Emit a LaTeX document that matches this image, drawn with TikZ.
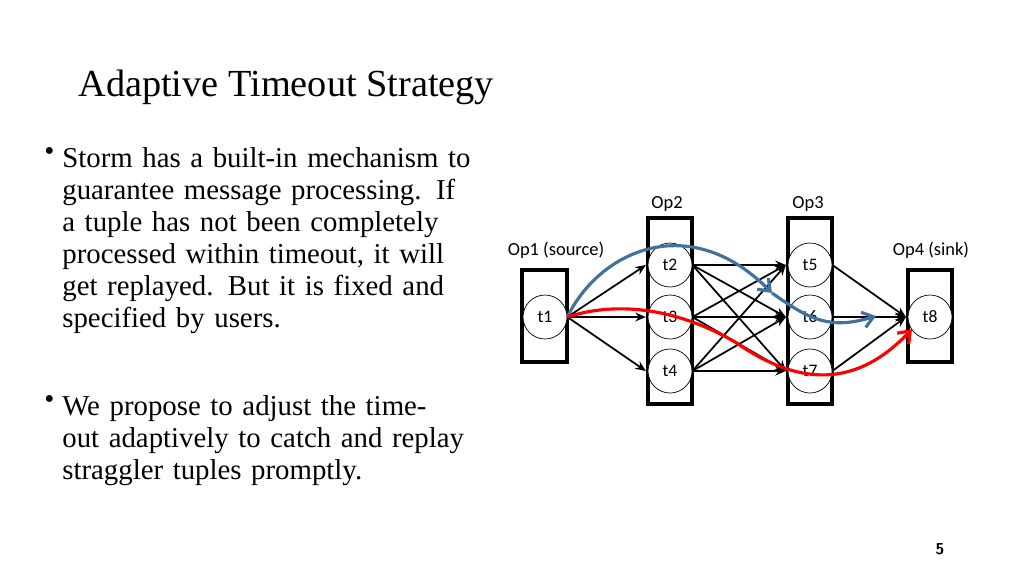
\documentclass[tikz,border=0pt]{standalone}
\usepackage{fontspec}
\setmainfont{Liberation Serif}
\newfontfamily\calib{Carlito}
\usetikzlibrary{arrows.meta,positioning}
\tikzset{
  opbox/.style={draw,line width=1.8pt},
  task/.style={circle,draw,fill=white,minimum size=0.88cm,inner sep=0pt,font=\calib\fontsize{10}{11}\selectfont},
  oplabel/.style={font=\calib\fontsize{10.5}{12}\selectfont},
  link/.style={-{Stealth[length=6pt,width=5pt]},line width=1pt},
  path/.style={line width=1.8pt,-{Straight Barb[length=6pt,width=9pt]}},
  bullet/.style={anchor=north west,text width=8.6cm,align=left,font=\fontsize{16.4}{18.2}\selectfont,inner sep=0pt}
}
\begin{document}
\begin{tikzpicture}[x=0.02cm,y=-0.02cm]
\useasboundingbox (0,0) rectangle (1024,576);
% title and text
\node[anchor=west,font=\fontsize{21.8}{24}\selectfont,inner sep=0pt] (title) at (78,87) {Adaptive Timeout Strategy};
\node[anchor=north west,inner sep=0pt,font=\fontsize{16.4}{18.2}\selectfont] (d1) at (44,147) {\textbullet};
\node[bullet] (b1) at (62,147)
  {Storm has a built-in mechanism to guarantee message processing. If a tuple has not been completely processed within timeout, it will get replayed. But it is fixed and specified by users.};
\node[anchor=north west,inner sep=0pt,font=\fontsize{16.4}{18.2}\selectfont] (d2) at (44,395) {\textbullet};
\node[bullet] (b2) at (62,395)
  {We propose to adjust the timeout adaptively to catch and replay straggler tuples promptly.};
\node[font=\sffamily\bfseries\fontsize{9}{10}\selectfont] (pg) at (940,549) {5};
% operator boxes
\draw[opbox] (522,270) rectangle (567,362);
\draw[opbox] (648,218) rectangle (692,404);
\draw[opbox] (788,218) rectangle (832,404);
\draw[opbox] (908,270) rectangle (952,362);
\node[oplabel] (l1) at (556,250) {Op1 (source)};
\node[oplabel] (l2) at (667,204) {Op2};
\node[oplabel] (l3) at (808,204) {Op3};
\node[oplabel] (l4) at (931,250) {Op4 (sink)};
% tasks
\node[task] (t1) at (545,317) {t1};
\node[task] (t2) at (670,265) {t2};
\node[task] (t3) at (670,317) {t3};
\node[task] (t4) at (670,371) {t4};
\node[task] (t5) at (810,265) {t5};
\node[task] (t6) at (810,317) {t6};
\node[task] (t7) at (810,371) {t7};
\node[task] (t8) at (930,317) {t8};
% links
\foreach \b in {t2,t3,t4}
  \draw[link] (t1.east) -- ([xshift=-1pt]\b.west);
\foreach \a in {t2,t3,t4}
  \foreach \b in {t5,t6,t7}
    \draw[link] (\a.east) -- ([xshift=-1pt]\b.west);
\foreach \a in {t5,t6,t7}
  \draw[link] (\a.east) -- ([xshift=-1pt]t8.west);
% tuple paths
\coordinate (bm) at (772,293);
\coordinate (be) at (876,316);
\draw[path,draw={rgb,255:red,65;green,113;blue,156}] (t1.east) .. controls (600,250) and (690,210) .. (bm);
\draw[path,draw={rgb,255:red,65;green,113;blue,156}] (bm) .. controls (810,320) and (830,330) .. (be);
\coordinate (re) at (912,329);
\draw[path,draw=red] (t1.east) .. controls (620,300) and (680,310) .. (735,342) .. controls (790,380) and (850,395) .. (re);
\end{tikzpicture}
\end{document}
